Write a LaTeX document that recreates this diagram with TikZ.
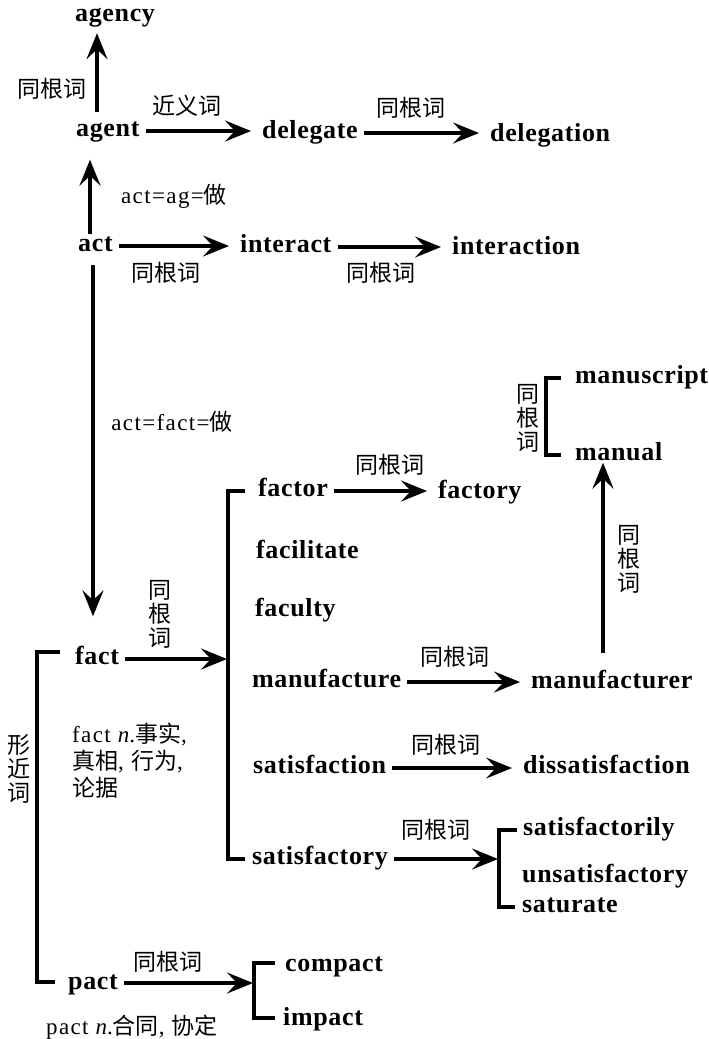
\documentclass[tikz,border=0pt]{standalone}
\usepackage{fontspec}
\setmainfont{Liberation Serif}
\newfontfamily\cjk{Noto Sans CJK SC}
\newfontfamily\wfont[LetterSpace=2.5]{Liberation Serif}
\newfontfamily\tfont[LetterSpace=6]{Liberation Serif}
\usetikzlibrary{arrows.meta}
\begin{document}
\begin{tikzpicture}[x=1pt,y=-1pt,
  word/.style={font=\wfont\bfseries\fontsize{26}{30}\selectfont, anchor=west,
    inner xsep=2pt, inner ysep=0pt, text height=17pt, text depth=6pt},
  lab/.style={font=\cjk\fontsize{23}{24}\selectfont, inner sep=0pt},
  vlab/.style={font=\cjk\fontsize{23}{24}\selectfont, inner sep=0pt, align=center},
  txt/.style={font=\tfont\fontsize{23}{27}\selectfont, inner sep=0pt},
  arr/.style={line width=3.2pt, -{Stealth[length=26pt,width=21pt,inset=10pt]},
    shorten <=4pt, shorten >=9pt},
  brk/.style={line width=3.2pt}]
\useasboundingbox[fill=white] (0,0) rectangle (709,1039);

% words
\node[word] (agency) at (73,16) {agency};
\node[word] (agent) at (74,131) {agent};
\node[word] (delegate) at (260,133) {delegate};
\node[word] (delegation) at (488,136) {delegation};
\node[word] (act) at (76,246) {act};
\node[word] (interact) at (238,247) {interact};
\node[word] (interaction) at (450,249) {interaction};
\node[word] (fact) at (73,659) {fact};
\node[word] (factor) at (256,491) {factor};
\node[word] (factory) at (436,493) {factory};
\node[word] (facilitate) at (254,553) {facilitate};
\node[word] (faculty) at (253,611) {faculty};
\node[word] (manufacture) at (250,682) {manufacture};
\node[word] (manufacturer) at (529,683) {manufacturer};
\node[word] (manuscript) at (573,378) {manuscript};
\node[word] (manual) at (573,455) {manual};
\node[word] (satisfaction) at (251,768) {satisfaction};
\node[word] (dissatisfaction) at (521,768) {dissatisfaction};
\node[word] (satisfactory) at (250,859) {satisfactory};
\node[word] (satisfactorily) at (521,830) {satisfactorily};
\node[word] (unsatisfactory) at (520,877) {unsatisfactory};
\node[word] (saturate) at (520,907) {saturate};
\node[word] (pact) at (66,984) {pact};
\node[word] (compact) at (283,966) {compact};
\node[word] (impact) at (281,1020) {impact};

% labels
\node[lab] (l1) at (52,89) {同根词};
\node[lab] (l2) at (187,106) {近义词};
\node[lab] (l3) at (411,108) {同根词};
\node[txt] (l4) at (174,196) {act=ag={\cjk 做}};
\node[lab] (l5) at (166,273) {同根词};
\node[lab] (l6) at (381,273) {同根词};
\node[txt] (l7) at (172,422) {act=fact={\cjk 做}};
\node[vlab] (l8) at (160,614) {同\\根\\词};
\node[lab] (l9) at (390,465) {同根词};
\node[vlab] (l10) at (528,418) {同\\根\\词};
\node[vlab] (l11) at (629,559) {同\\根\\词};
\node[lab] (l12) at (455,657) {同根词};
\node[lab] (l13) at (446,745) {同根词};
\node[lab] (l14) at (436,830) {同根词};
\node[vlab] (l15) at (19,769) {形\\近\\词};
\node[lab] (l16) at (168,962) {同根词};
\node[txt, anchor=north west, align=left] (def1) at (72,723)
  {fact \textit{n}.{\cjk 事实},\\{\cjk 真相}, {\cjk 行为},\\{\cjk 论据}};
\node[txt] (def2) at (132,1027) {pact \textit{n}.{\cjk 合同}, {\cjk 协定}};

% bracket / line positions
\coordinate (vA) at (97,0);
\coordinate (vB) at (90,0);
\coordinate (vC) at (93,0);
\coordinate (vD) at (603,0);
\coordinate (bb) at (228,0);
\coordinate (mb) at (546,0);
\coordinate (sb) at (499,0);
\coordinate (pb) at (254,0);
\coordinate (lb) at (37,0);

% vertical arrows
\draw[arr, shorten <=7.5pt, shorten >=5.5pt] (agent.north -| vA) -- (agency.south -| vA);
\draw[arr, shorten <=0pt, shorten >=17pt] (act.north -| vB) -- (agent.south -| vB);
\draw[arr, shorten <=7.5pt, shorten >=31pt] (act.south -| vC) -- (fact.north -| vC);
\draw[arr, shorten <=18pt, shorten >=-4pt] (manufacturer.north -| vD) -- (manual.south -| vD);

% horizontal arrows
\draw[arr] (agent.east) -- (agent.east -| delegate.west);
\draw[arr] (delegate.east) -- (delegate.east -| delegation.west);
\draw[arr] (act.east) -- (act.east -| interact.west);
\draw[arr] (interact.east) -- (interact.east -| interaction.west);
\draw[arr] (factor.east) -- (factor.east -| factory.west);
\draw[arr] (manufacture.east) -- (manufacture.east -| manufacturer.west);
\draw[arr] (satisfaction.east) -- (satisfaction.east -| dissatisfaction.west);
\draw[arr, shorten >=1pt] (fact.east) -- (fact.east -| bb);
\draw[arr, shorten >=1pt] (satisfactory.east) -- (satisfactory.east -| sb);
\draw[arr, shorten >=1pt] ([yshift=1pt]pact.east) -- ([yshift=1pt]pact.east -| pb);

% brackets
\draw[brk] ([xshift=-11pt]factor.west) -- (factor.west -| bb) -- (satisfactory.west -| bb) -- ([xshift=-5pt]satisfactory.west);
\draw[brk] ([xshift=-12pt]manuscript.west) -- (manuscript.west -| mb) -- (manual.west -| mb) -- ([xshift=-12pt]manual.west);
\draw[brk] ([xshift=-4pt]satisfactorily.west) -- (satisfactorily.west -| sb) -- (saturate.west -| sb) -- ([xshift=-5pt]saturate.west);
\draw[brk] ([xshift=-8pt,yshift=3pt]compact.west) -- ([yshift=3pt]compact.west -| pb) -- ([yshift=2pt]impact.west -| pb) -- ([xshift=-6pt,yshift=2pt]impact.west);
\draw[brk] ([xshift=-13pt,yshift=7pt]fact.west) -- ([yshift=7pt]fact.west -| lb) -- ([yshift=2pt]pact.west -| lb) -- ([xshift=-11pt,yshift=2pt]pact.west);
\end{tikzpicture}
\end{document}
